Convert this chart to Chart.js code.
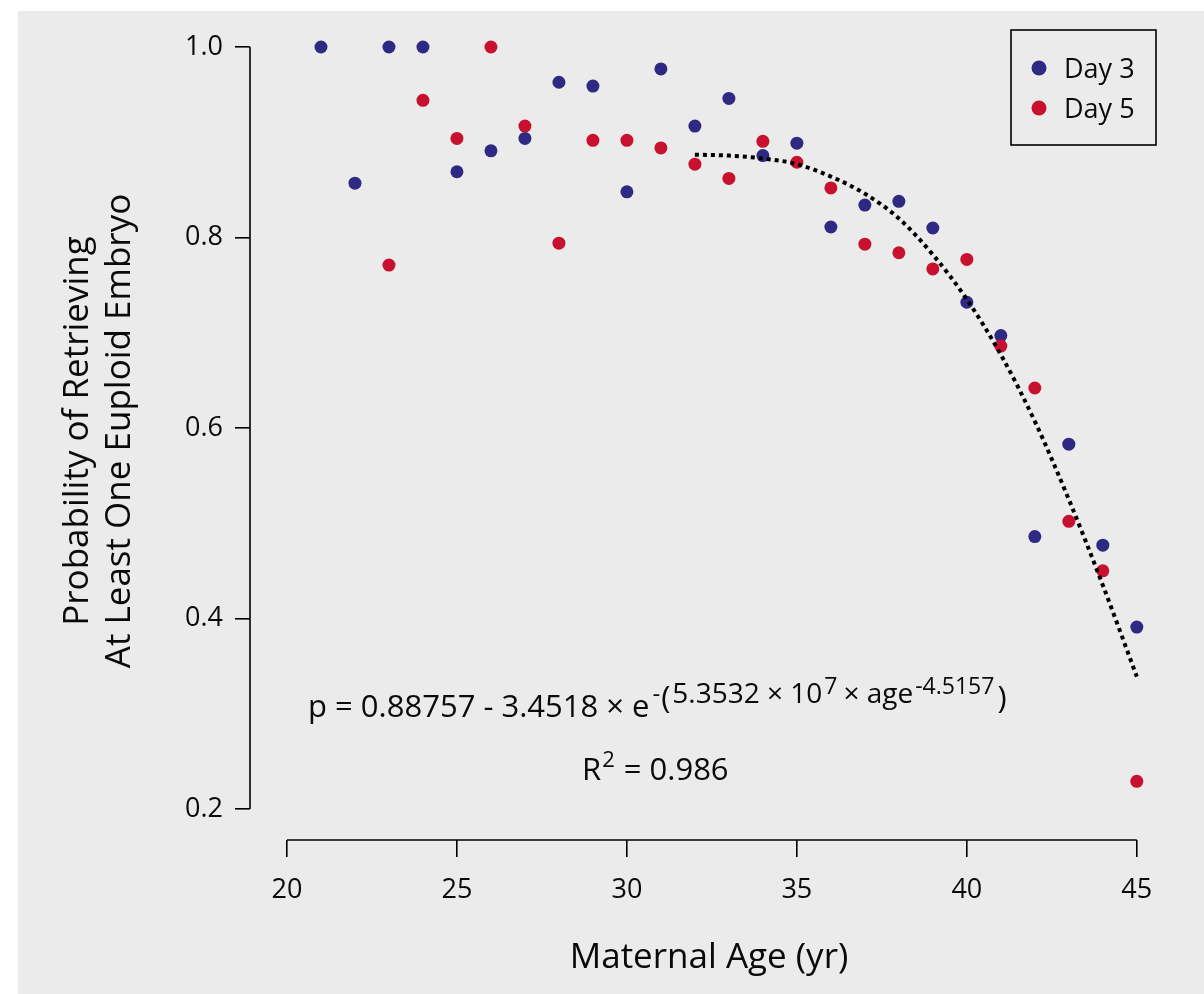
<!DOCTYPE html>
<html>
<head>
<meta charset="utf-8">
<script src="https://cdn.jsdelivr.net/npm/chart.js@4.4.1/dist/chart.umd.min.js"></script>
<style>
  html, body { margin: 0; padding: 0; background: #ffffff; }
  #wrap { width: 1204px; height: 994px; position: relative; }
  canvas { display: block; }
</style>
</head>
<body>
<div id="wrap"><canvas id="c" width="1204" height="994"></canvas></div>
<script>
// ---- data ----
const day3Ages   = [21, 22, 23, 24, 25, 26, 27, 28, 29, 30, 31, 32, 33, 34, 35, 36, 37, 38, 39, 40, 41, 42, 43, 44, 45];
const day3Values = [1.000, 0.857, 1.000, 1.000, 0.869, 0.891, 0.904, 0.963, 0.959, 0.848, 0.977, 0.917, 0.946, 0.886, 0.899, 0.811, 0.834, 0.838, 0.810, 0.732, 0.697, 0.486, 0.583, 0.477, 0.391];
const day5Ages   = [23, 24, 25, 26, 27, 28, 29, 30, 31, 32, 33, 34, 35, 36, 37, 38, 39, 40, 41, 42, 43, 44, 45];
const day5Values = [0.771, 0.944, 0.904, 1.000, 0.917, 0.794, 0.902, 0.902, 0.894, 0.877, 0.862, 0.901, 0.879, 0.852, 0.793, 0.784, 0.767, 0.777, 0.686, 0.642, 0.502, 0.450, 0.229];
const fitAges    = [32, 33, 34, 35, 36, 37, 38, 39, 40, 41, 42, 43, 44, 45];
const fitValues  = [0.887, 0.886, 0.883, 0.877, 0.864, 0.846, 0.820, 0.782, 0.735, 0.677, 0.607, 0.525, 0.435, 0.339];
const xTickValues = [20, 25, 30, 35, 40, 45];
const yTickValues = [0.2, 0.4, 0.6, 0.8, 1.0];
const seriesNames = ['Day 3', 'Day 5'];
const xTitle = 'Maternal Age (yr)';
const yTitle = ['Probability of Retrieving', 'At Least One Euploid Embryo'];
const eqMain = 'p = 0.88757 - 3.4518 \u00d7 e';
const eqCoef = '5.3532 \u00d7 10';
const eqPow = '7';
const eqAge = '\u00d7 age';
const eqExp = '-4.5157';
const r2Text = ' = 0.986';

const BLUE = '#2e2a84';
const RED = '#c8112f';
const FONT = "'Open Sans', 'Noto Sans', sans-serif";
const TEXT = '#0a0a0a';

const overlay = {
  id: 'overlay',
  beforeDraw(chart) {
    const ctx = chart.ctx;
    ctx.save();
    ctx.fillStyle = '#ffffff';
    ctx.fillRect(0, 0, chart.width, chart.height);
    ctx.fillStyle = '#ebebeb';
    ctx.fillRect(18, 11, chart.width - 18, chart.height - 11);
    ctx.restore();
  },
  beforeDatasetsDraw(chart) {
    const ctx = chart.ctx;
    const xs = chart.scales.x, ys = chart.scales.y;
    ctx.save();
    ctx.strokeStyle = '#000';
    ctx.lineWidth = 1.6;
    const ax = chart.chartArea.left;
    ctx.beginPath();
    ctx.moveTo(ax, ys.getPixelForValue(yTickValues[0]));
    ctx.lineTo(ax, ys.getPixelForValue(yTickValues[yTickValues.length - 1]));
    ctx.stroke();
    const ay = chart.chartArea.bottom;
    ctx.beginPath();
    ctx.moveTo(xs.getPixelForValue(xTickValues[0]), ay);
    ctx.lineTo(xs.getPixelForValue(xTickValues[xTickValues.length - 1]), ay);
    ctx.stroke();
    ctx.restore();
  },
  afterDraw(chart) {
    const ctx = chart.ctx;
    const xs = chart.scales.x, ys = chart.scales.y;
    ctx.save();
    // axis titles
    ctx.fillStyle = TEXT;
    ctx.textAlign = 'center';
    ctx.textBaseline = 'alphabetic';
    ctx.font = '35px ' + FONT;
    ctx.fillText(xTitle, 709, 968);
    const titleCenter = 431;
    [88, 130].forEach((bx, i) => {
      ctx.save();
      ctx.translate(bx, titleCenter);
      ctx.rotate(-Math.PI / 2);
      ctx.fillText(yTitle[i], 0, 0);
      ctx.restore();
    });
    ctx.textAlign = 'left';
    // legend
    ctx.strokeStyle = '#000';
    ctx.lineWidth = 1.6;
    ctx.strokeRect(1011, 30, 145, 115);
    const colors = [BLUE, RED];
    ctx.font = '27px ' + FONT;
    for (let i = 0; i < seriesNames.length; i++) {
      const cy = 68 + i * 40;
      ctx.fillStyle = colors[i];
      ctx.beginPath();
      ctx.arc(1039, cy, 7.5, 0, Math.PI * 2);
      ctx.fill();
      ctx.fillStyle = TEXT;
      ctx.fillText(seriesNames[i], 1064, cy + 9.5);
    }
    // equation
    let x = xs.getPixelForValue(20.62);
    const base = ys.getPixelForValue(0.2966);
    const segs = [
      [eqMain, 31, 0, 3],
      ['-', 24, -15, 1],
      ['(', 31, -9, 2],
      [eqCoef, 28, -14, 2],
      [eqPow, 23, -23, 6],
      [eqAge, 28, -14, 2],
      [eqExp, 23, -23, 3],
      [')', 31, -9, 0]
    ];
    ctx.fillStyle = TEXT;
    for (const [t, size, dy, gap] of segs) {
      ctx.font = size + 'px ' + FONT;
      ctx.fillText(t, x, base + dy);
      x += ctx.measureText(t).width + gap;
    }
    // R^2
    let rx = 582;
    const rb = ys.getPixelForValue(0.2 + (809 - 780) / 952.5);
    ctx.font = '31px ' + FONT;
    ctx.fillText('R', rx, rb);
    rx += ctx.measureText('R').width + 1;
    ctx.font = '22px ' + FONT;
    ctx.fillText('2', rx, rb - 13);
    rx += ctx.measureText('2').width + 1;
    ctx.font = '31px ' + FONT;
    ctx.fillText(r2Text, rx, rb);
    ctx.restore();
  }
};

Chart.defaults.font.family = FONT;
Chart.defaults.color = TEXT;

new Chart(document.getElementById('c'), {
  type: 'scatter',
  data: {
    datasets: [
      {
        type: 'line', label: 'Fit',
        data: fitAges.map((a, i) => ({ x: a, y: fitValues[i] })),
        borderColor: '#000', borderWidth: 4, borderDash: [4, 4],
        pointRadius: 0, fill: false, cubicInterpolationMode: 'monotone',
        order: 1, clip: false
      },
      {
        label: seriesNames[1],
        data: day5Ages.map((a, i) => ({ x: a, y: day5Values[i] })),
        backgroundColor: RED, borderColor: RED, borderWidth: 0,
        pointRadius: 6.5, order: 2, clip: false
      },
      {
        label: seriesNames[0],
        data: day3Ages.map((a, i) => ({ x: a, y: day3Values[i] })),
        backgroundColor: BLUE, borderColor: BLUE, borderWidth: 0,
        pointRadius: 6.5, order: 3, clip: false
      }
    ]
  },
  options: {
    responsive: false,
    animation: false,
    layout: { padding: { top: 37, right: 57, left: 0, bottom: 0 } },
    plugins: { legend: { display: false }, tooltip: { enabled: false } },
    scales: {
      x: {
        type: 'linear', min: 18.912, max: 45.3,
        afterBuildTicks: s => { s.ticks = xTickValues.map(v => ({ value: v })); },
        afterFit: s => { s.height = 154; },
        border: { display: false },
        grid: { drawOnChartArea: false, drawTicks: true, tickLength: 17, color: '#000', lineWidth: 1.6 },
        ticks: { padding: 17, color: TEXT, font: { family: FONT, size: 27 }, maxRotation: 0, autoSkip: false },
        title: { display: false }
      },
      y: {
        type: 'linear', min: 0.16745, max: 1.0105,
        afterBuildTicks: s => { s.ticks = yTickValues.map(v => ({ value: v })); },
        afterFit: s => { s.width = 250; },
        border: { display: false },
        grid: { drawOnChartArea: false, drawTicks: true, tickLength: 15, color: '#000', lineWidth: 1.6 },
        ticks: { padding: 12, color: TEXT, font: { family: FONT, size: 27 }, callback: v => Number(v).toFixed(1) },
        title: { display: false }
      }
    }
  },
  plugins: [overlay]
});
</script>
</body>
</html>
